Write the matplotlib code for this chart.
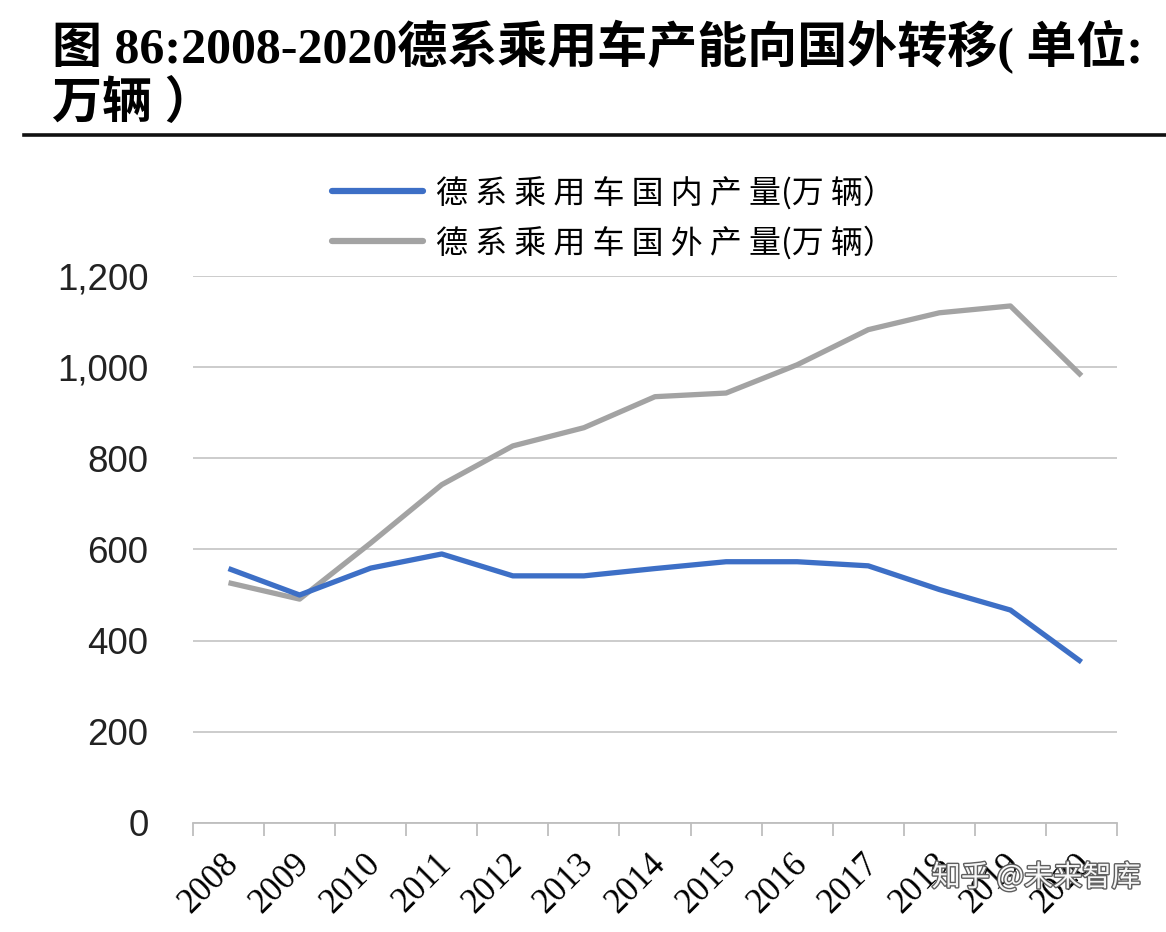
import matplotlib
matplotlib.use("Agg")
import matplotlib.pyplot as plt
import matplotlib.transforms as mtransforms
import matplotlib.patheffects as pe
from matplotlib.lines import Line2D

years = ["2008", "2009", "2010", "2011", "2012", "2013", "2014",
         "2015", "2016", "2017", "2018", "2019", "2020"]
domestic = [558, 500, 559, 590, 542, 542, 558, 573, 573, 564, 512, 467, 353]
overseas = [527, 491, 614, 742, 827, 867, 935, 943, 1005, 1082, 1119, 1134, 981]
yticks = [0, 200, 400, 600, 800, 1000, 1200]
ytick_labels = ["0", "200", "400", "600", "800", "1,000", "1,200"]
title_text = "图 86:2008-2020德系乘用车产能向国外转移( 单位:\n万辆 ）"
label_dom = "德 系 乘 用 车 国 内 产 量(万 辆）"
label_ovs = "德 系 乘 用 车 国 外 产 量(万 辆）"

CJK = ["Liberation Serif", "Noto Sans CJK SC", "DejaVu Sans"]

fig = plt.figure(figsize=(11.66, 9.32), dpi=100)
ax = fig.add_axes([0.1655, 0.117, 0.7925, 0.587])

x = list(range(len(years)))
ax.plot(x, domestic, color="#3D6FC6", lw=3.8, solid_capstyle="butt", zorder=3)
ax.plot(x, overseas, color="#A3A3A3", lw=3.8, solid_capstyle="butt", zorder=2)

ax.set_xlim(-0.5, len(years) - 0.5)
ax.set_ylim(0, 1200)
ax.set_yticks(yticks)
ax.set_yticklabels(ytick_labels, fontfamily="Liberation Sans", fontsize=26.5)
ax.tick_params(axis="y", length=0, pad=32, colors="#222222")
ax.grid(axis="y", color="#C8C8C8", lw=1.3)
ax.set_axisbelow(True)

ax.set_xticks(x)
ax.set_xticklabels(years, fontfamily="Liberation Serif", fontsize=25,
                   rotation=45, ha="right", va="center", rotation_mode="anchor")
ax.set_xticks([i - 0.5 for i in range(len(years) + 1)], minor=True)
ax.tick_params(axis="x", which="major", length=0, pad=26)
ax.tick_params(axis="x", which="minor", length=9, width=1.3, color="#BEBEBE")
off = mtransforms.ScaledTranslation(0.05, 0, fig.dpi_scale_trans)
for lab in ax.get_xticklabels():
    lab.set_transform(lab.get_transform() + off)

for s in ["top", "right", "left"]:
    ax.spines[s].set_visible(False)
ax.spines["bottom"].set_color("#BEBEBE")
ax.spines["bottom"].set_linewidth(1.3)

handles = [Line2D([], [], color="#3D6FC6", lw=4.5, solid_capstyle="round"),
           Line2D([], [], color="#A3A3A3", lw=4.5, solid_capstyle="round")]
fig.legend(handles, [label_dom, label_ovs], loc="upper left",
           bbox_to_anchor=(0.26, 0.842), frameon=False,
           prop={"family": ["Noto Sans CJK SC"], "size": 23},
           handlelength=2.85, handletextpad=0.4, labelspacing=0.5)

fig.text(0.045, 0.979, title_text, ha="left", va="top", fontsize=36,
         fontweight="bold", family=CJK, linespacing=1.2)
fig.add_artist(Line2D([0.021, 1.0], [0.855, 0.855], transform=fig.transFigure,
                      color="#111111", lw=2.6))

fig.text(0.978, 0.058, "知乎 @未来智库", ha="right", va="center", fontsize=21,
         family=["Noto Sans CJK SC"], color="white", alpha=0.95,
         path_effects=[pe.withStroke(linewidth=2, foreground="#555555")])

fig.savefig("out.png", dpi=100, facecolor="white")
